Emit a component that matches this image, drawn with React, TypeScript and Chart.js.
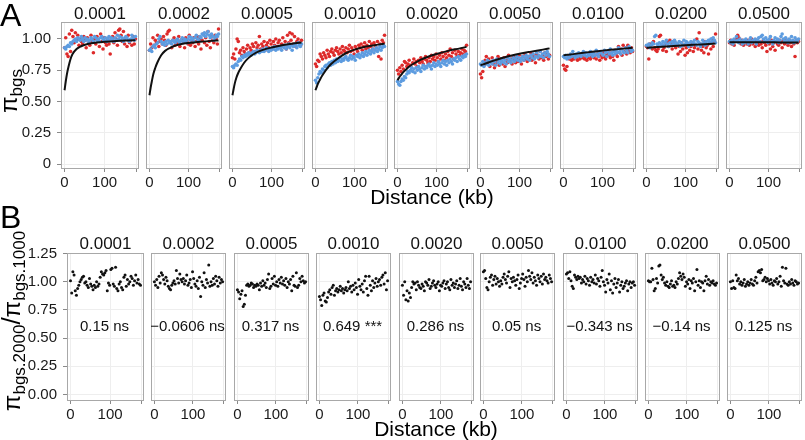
import React, { useEffect, useRef } from 'react';
import { Chart, registerables } from 'chart.js';

Chart.register(...registerables);

const FONT = "'Liberation Sans', Arial, Helvetica, sans-serif";
const RED = '#dd2a2a';
const BLUE = '#5d9ce0';

// facet labels (rate)
const RATES = ['0.0001', '0.0002', '0.0005', '0.0010', '0.0020', '0.0050', '0.0100', '0.0200', '0.0500'];
// panel B annotations
const STAT_LABELS = ['0.15 ns', '\u22120.0606 ns', '0.317 ns', '0.649 ***', '0.286 ns', '0.05 ns', '\u22120.343 ns', '\u22120.14 ns', '0.125 ns'];

// distance bins (kb)
const X_KB = [
  0, 3, 6, 9, 12, 15, 18, 21, 24, 27,
  30, 33, 36, 39, 42, 45, 48, 51, 54, 57,
  60, 63, 66, 69, 72, 75, 78, 81, 84, 87,
  90, 93, 96, 99, 102, 105, 108, 111, 114, 117,
  120, 123, 126, 129, 132, 135, 138, 141, 144, 147,
  150, 153, 156, 159, 162, 165, 168, 171, 174, 177,
];
const X_TICKS = [0, 100, 180];
const X_TICK_LABELS = ['0', '100', ''];
const Y_TICKS_A = [0, 0.25, 0.5, 0.75, 1.0];
const Y_TICK_LABELS_A = ['0', '0.25', '0.50', '0.75', '1.00'];
const Y_TICKS_B = [0, 0.25, 0.5, 0.75, 1.0, 1.25];
const Y_TICK_LABELS_B = ['0.00', '0.25', '0.50', '0.75', '1.00', '1.25'];

// Panel A, red series (one list per rate)
const RED_A = [
  [0.93,1.01,0.88,0.86,1.04,0.90,1.07,1.02,0.97,1.05,
   0.99,1.03,0.95,1.00,0.98,0.96,1.02,0.99,0.93,1.01,
   0.97,0.95,1.03,0.98,0.89,1.00,0.96,1.02,0.99,0.94,
   1.04,0.98,0.92,1.01,0.97,0.95,1.00,0.96,0.88,0.99,
   1.02,0.97,1.05,1.00,0.95,1.07,1.08,1.03,0.98,1.06,
   0.96,1.01,0.94,1.03,0.97,0.99,0.95,1.02,0.96,1.00],
  [0.91,0.96,0.93,1.01,0.95,0.99,0.97,1.03,0.94,0.98,
   1.00,0.96,1.02,0.99,0.95,1.04,1.06,1.07,0.97,0.93,
   0.99,1.01,0.95,0.98,0.96,1.02,0.94,0.99,1.00,0.97,
   0.93,1.01,0.98,0.96,1.03,0.95,0.99,0.97,1.01,0.94,
   0.98,1.02,0.96,1.00,0.92,0.99,1.04,0.97,1.01,0.95,
   1.06,0.98,0.93,1.02,0.99,0.97,1.03,1.00,0.96,1.08],
  [0.85,0.88,0.84,0.92,1.00,0.98,0.89,0.91,0.87,0.93,
   0.90,0.88,0.92,0.95,0.89,0.93,0.91,0.96,0.94,0.90,
   0.97,0.93,0.95,1.02,0.92,0.96,0.94,0.98,0.91,0.95,
   0.97,0.93,0.99,0.96,0.92,0.98,0.95,1.00,0.94,0.97,
   0.99,0.93,0.96,1.01,0.95,0.98,0.92,1.03,0.97,1.05,
   0.99,1.04,0.96,1.02,0.94,0.98,1.00,0.97,0.95,0.99],
  [0.80,0.78,0.83,0.82,0.88,0.86,0.84,0.89,0.87,0.85,
   0.91,0.88,0.86,0.90,0.92,0.89,0.87,0.91,0.93,0.90,
   0.88,0.92,0.89,0.94,0.91,0.90,0.93,0.89,0.92,0.95,
   0.90,0.93,0.91,0.88,0.94,0.92,0.90,0.95,0.93,0.96,
   0.91,0.94,0.97,0.92,0.95,0.93,0.98,0.94,0.96,0.92,
   0.97,0.95,0.93,0.98,0.86,0.96,0.84,0.99,0.97,1.03],
  [0.75,0.72,0.77,0.74,0.79,0.76,0.82,0.81,0.78,0.80,
   0.83,0.79,0.77,0.81,0.84,0.80,0.82,0.78,0.83,0.81,
   0.85,0.82,0.80,0.84,0.86,0.83,0.81,0.85,0.82,0.87,
   0.84,0.86,0.83,0.88,0.85,0.82,0.87,0.84,0.89,0.86,
   0.83,0.88,0.85,0.90,0.87,0.92,0.86,0.89,0.84,0.91,
   0.88,0.86,0.90,0.87,0.89,0.92,0.88,0.91,0.90,0.95],
  [0.72,0.69,0.74,0.79,0.83,0.86,0.81,0.84,0.78,0.82,
   0.85,0.80,0.77,0.83,0.81,0.86,0.79,0.84,0.82,0.80,
   0.85,0.78,0.83,0.81,0.87,0.82,0.84,0.80,0.86,0.83,
   0.81,0.85,0.82,0.87,0.84,0.80,0.86,0.83,0.88,0.84,
   0.82,0.86,0.85,0.89,0.83,0.87,0.85,0.81,0.88,0.86,
   0.84,0.90,0.85,0.87,0.83,0.89,0.86,0.88,0.84,0.87],
  [0.79,0.76,0.75,0.78,0.85,0.84,0.86,0.83,0.85,0.84,
   0.87,0.85,0.83,0.86,0.84,0.88,0.85,0.87,0.84,0.86,
   0.83,0.85,0.88,0.84,0.86,0.89,0.85,0.87,0.84,0.88,
   0.86,0.83,0.87,0.85,0.89,0.86,0.84,0.88,0.90,0.87,
   0.85,0.89,0.86,0.83,0.91,0.88,0.86,0.94,0.89,0.92,
   0.87,0.95,0.90,0.93,0.88,0.95,0.91,0.89,0.93,0.90],
  [0.94,0.93,0.84,0.96,0.95,0.92,0.98,0.93,0.91,0.90,
   0.92,1.02,1.03,0.95,0.91,0.93,0.96,0.90,0.98,0.94,
   0.99,0.97,0.92,0.95,0.98,0.93,0.96,0.88,0.94,0.90,
   0.97,0.92,0.95,0.87,0.93,0.89,0.96,0.91,0.94,0.97,
   0.90,0.93,0.95,1.00,0.92,1.05,0.96,0.91,0.94,0.89,
   0.98,0.93,0.95,0.88,0.97,0.92,1.00,0.94,0.98,1.04],
  [0.97,0.99,0.96,0.98,0.95,0.98,1.00,1.03,1.01,0.97,
   0.96,0.99,0.95,0.97,0.98,0.96,0.99,0.95,0.97,1.00,
   0.96,0.98,0.94,0.99,0.97,0.95,0.98,0.96,0.93,0.99,
   0.97,0.95,0.90,0.98,0.96,0.92,0.99,0.94,0.97,0.91,
   0.98,0.96,0.95,0.99,0.97,0.93,0.98,0.96,1.00,0.97,
   0.95,0.99,0.97,0.94,0.98,0.96,0.86,0.99,0.97,0.98],
];

// Panel A, blue series
const BLUE_A = [
  [0.93,0.92,0.94,0.95,0.94,0.97,0.96,0.98,0.99,1.00,
   0.98,1.01,1.00,0.99,1.02,1.00,0.98,1.01,0.99,1.00,
   0.97,0.99,1.01,1.00,0.98,1.02,1.01,0.99,1.00,0.98,
   1.01,1.02,1.00,0.99,1.01,0.98,1.00,1.02,0.99,1.01,
   1.00,0.98,1.01,0.99,1.03,1.00,1.02,0.99,1.01,0.98,
   1.00,1.02,1.01,0.99,0.98,1.00,1.03,1.01,0.99,1.02],
  [0.91,0.92,0.90,0.94,0.95,0.93,0.96,0.97,1.00,1.02,
   0.98,0.96,0.97,0.95,0.98,0.96,0.99,0.97,0.98,0.96,
   0.99,0.98,0.97,0.99,1.00,0.98,0.97,0.99,1.01,0.98,
   1.00,0.99,0.97,1.00,1.02,0.99,1.01,1.00,0.98,1.01,
   1.03,1.00,0.99,1.02,1.01,1.04,1.03,1.05,1.02,1.04,
   1.06,1.03,1.01,1.04,1.02,0.99,1.01,1.03,1.02,1.04],
  [0.78,0.77,0.79,0.80,0.79,0.82,0.84,0.83,0.86,0.85,
   0.87,0.86,0.88,0.87,0.89,0.88,0.87,0.89,0.90,0.88,
   0.89,0.91,0.90,0.89,0.91,0.90,0.92,0.90,0.91,0.93,
   0.92,0.90,0.92,0.91,0.93,0.92,0.94,0.91,0.93,0.92,
   0.94,0.93,0.91,0.94,0.93,0.95,0.92,0.94,0.96,0.93,
   0.95,0.91,0.94,0.96,0.95,0.93,0.97,0.95,0.94,0.96],
  [0.67,0.65,0.69,0.72,0.74,0.73,0.76,0.75,0.78,0.79,
   0.77,0.80,0.81,0.79,0.82,0.80,0.83,0.81,0.84,0.82,
   0.83,0.85,0.82,0.84,0.83,0.85,0.86,0.84,0.83,0.85,
   0.87,0.84,0.86,0.85,0.83,0.87,0.86,0.88,0.85,0.87,
   0.89,0.86,0.88,0.90,0.87,0.89,0.91,0.88,0.90,0.92,
   0.89,0.91,0.93,0.90,0.92,0.94,0.91,0.93,0.95,0.94],
  [0.66,0.64,0.63,0.66,0.68,0.67,0.70,0.69,0.72,0.74,
   0.73,0.75,0.77,0.74,0.76,0.73,0.77,0.75,0.78,0.76,
   0.74,0.77,0.79,0.76,0.78,0.77,0.79,0.80,0.78,0.76,
   0.79,0.81,0.78,0.80,0.79,0.82,0.80,0.78,0.81,0.83,
   0.80,0.82,0.79,0.83,0.81,0.84,0.82,0.80,0.84,0.83,
   0.85,0.82,0.86,0.84,0.83,0.86,0.85,0.87,0.86,0.88],
  [0.80,0.79,0.82,0.78,0.81,0.80,0.83,0.79,0.82,0.81,
   0.80,0.83,0.82,0.79,0.84,0.81,0.83,0.80,0.82,0.84,
   0.81,0.83,0.80,0.85,0.82,0.84,0.81,0.83,0.85,0.82,
   0.84,0.86,0.83,0.85,0.82,0.84,0.86,0.83,0.85,0.87,
   0.84,0.86,0.83,0.87,0.85,0.88,0.84,0.86,0.89,0.85,
   0.87,0.90,0.86,0.88,0.85,0.89,0.87,0.90,0.88,0.86],
  [0.86,0.85,0.87,0.84,0.86,0.85,0.88,0.86,0.90,0.87,
   0.85,0.88,0.86,0.89,0.87,0.86,0.88,0.90,0.87,0.89,
   0.86,0.88,0.87,0.90,0.88,0.86,0.89,0.87,0.91,0.88,
   0.86,0.89,0.90,0.88,0.87,0.91,0.89,0.86,0.90,0.88,
   0.92,0.89,0.87,0.90,0.88,0.91,0.89,0.93,0.90,0.88,
   0.92,0.90,0.89,0.93,0.91,0.89,0.94,0.92,0.90,0.91],
  [0.95,0.94,0.96,0.93,0.95,0.97,0.96,1.02,1.03,0.96,
   0.95,0.97,0.94,0.96,0.98,0.95,0.97,0.99,0.96,0.94,
   0.97,0.95,0.98,0.96,0.99,0.97,0.95,0.96,0.98,0.94,
   0.97,0.95,0.99,0.96,0.98,0.97,0.94,0.96,0.98,0.95,
   0.97,0.99,0.96,0.95,0.98,0.97,0.94,0.96,0.99,0.97,
   0.95,0.98,0.96,0.99,0.97,1.00,0.98,1.01,0.99,0.97],
  [0.98,0.97,0.99,0.96,1.00,0.98,1.02,0.99,0.97,1.00,
   0.98,0.96,0.99,0.97,1.00,0.98,0.96,0.99,1.01,0.97,
   0.99,0.98,1.00,0.96,0.99,1.01,0.98,1.02,1.03,1.00,
   0.98,1.01,0.99,0.97,1.00,1.02,0.98,0.96,0.99,1.01,
   0.98,1.00,0.97,0.99,1.02,1.04,1.00,0.98,1.01,0.99,
   0.97,1.00,0.98,1.02,0.99,0.97,1.01,0.99,0.98,1.00],
];

// Panel A, fitted curve (read at these distances)
const CURVE_X = [0, 3, 6, 10, 15, 20, 30, 40, 60, 80, 100, 130, 160, 177];
const CURVE_A = [
  [0.59, 0.66, 0.72, 0.78, 0.84, 0.88, 0.92, 0.94, 0.962, 0.972, 0.978, 0.984, 0.988, 0.99],
  [0.55, 0.61, 0.66, 0.72, 0.77, 0.81, 0.87, 0.905, 0.94, 0.958, 0.968, 0.978, 0.985, 0.988],
  [0.55, 0.60, 0.645, 0.69, 0.73, 0.76, 0.81, 0.845, 0.89, 0.915, 0.932, 0.952, 0.966, 0.972],
  [0.59, 0.615, 0.64, 0.665, 0.695, 0.72, 0.765, 0.80, 0.85, 0.89, 0.915, 0.94, 0.955, 0.963],
  [0.67, 0.685, 0.70, 0.715, 0.735, 0.75, 0.78, 0.80, 0.835, 0.86, 0.88, 0.905, 0.925, 0.937],
  [0.79, 0.793, 0.797, 0.80, 0.806, 0.812, 0.823, 0.833, 0.852, 0.868, 0.882, 0.899, 0.915, 0.925],
  [0.87, 0.871, 0.872, 0.874, 0.875, 0.877, 0.881, 0.885, 0.893, 0.90, 0.907, 0.916, 0.925, 0.93],
  [0.93, 0.931, 0.931, 0.932, 0.933, 0.934, 0.936, 0.938, 0.942, 0.946, 0.95, 0.955, 0.96, 0.963],
  [0.975, 0.975, 0.975, 0.975, 0.975, 0.975, 0.975, 0.975, 0.974, 0.974, 0.974, 0.973, 0.973, 0.973],
];

// Panel B, ratio pi_bgs.2000 / pi_bgs.1000
const RATIO_B = [
  [1.01,0.90,1.09,1.06,0.92,0.88,0.94,0.97,1.00,1.02,
   1.04,1.05,0.99,1.00,0.97,0.95,1.03,0.98,0.96,0.93,
   0.97,0.95,1.00,0.96,0.98,1.04,1.09,1.07,1.06,1.08,
   1.10,0.92,0.99,0.97,1.11,1.12,0.98,0.96,1.13,0.94,
   0.92,0.98,1.00,0.95,0.93,1.04,1.06,0.96,1.02,0.98,
   1.00,1.05,1.03,0.97,1.01,1.06,0.99,1.02,0.98,0.97],
  [1.00,0.97,1.02,0.95,1.05,0.99,1.08,1.06,1.02,0.98,
   1.04,1.01,0.96,0.94,0.93,0.97,0.99,1.01,0.98,1.10,
   1.03,0.99,1.07,1.02,1.00,1.03,0.98,1.01,1.06,0.97,
   0.99,1.02,0.95,1.09,1.03,0.98,0.96,1.01,0.94,1.04,
   0.87,1.00,0.97,1.08,0.95,1.02,0.99,1.15,0.96,1.00,
   0.97,1.03,0.98,1.05,1.01,0.96,1.04,0.99,1.02,1.00],
  [0.93,0.91,0.85,0.89,0.92,0.78,0.80,0.88,0.97,0.98,
   0.96,0.97,0.99,0.98,0.95,0.97,0.96,0.98,0.97,0.93,
   0.99,0.96,1.01,0.97,0.99,0.95,1.02,1.07,0.94,0.96,
   1.03,0.98,1.05,0.97,1.00,0.96,1.02,0.99,1.04,0.98,
   1.01,0.97,1.03,0.95,1.00,0.98,1.02,0.92,1.05,0.97,
   0.96,1.08,0.95,0.97,1.03,1.00,1.05,1.01,0.99,1.00],
  [0.87,0.84,0.79,0.88,0.90,0.83,0.82,0.86,0.91,0.93,
   0.89,0.95,0.97,0.88,0.92,0.94,0.91,0.93,0.96,0.92,
   0.94,0.90,0.93,0.95,0.92,1.00,0.94,0.96,0.91,0.97,
   0.93,0.99,0.95,0.89,1.02,0.96,0.93,0.98,0.91,1.01,
   1.05,0.94,0.88,1.05,0.97,0.92,1.01,0.95,0.99,1.03,
   0.96,1.00,1.02,0.97,1.04,1.06,0.98,1.08,0.93,1.01],
  [0.97,0.88,1.00,0.84,0.92,0.83,0.90,0.86,0.95,1.00,
   0.98,0.99,0.93,1.00,0.97,0.95,0.94,0.98,0.96,0.92,
   1.00,0.99,0.97,1.02,0.94,0.96,0.99,1.01,0.97,0.95,
   0.98,1.00,0.92,0.97,0.96,0.99,1.01,0.94,0.98,1.00,
   0.95,0.93,1.02,0.97,0.99,0.95,0.98,1.01,0.94,0.97,
   1.03,0.96,0.93,1.00,0.98,0.95,1.03,0.97,0.94,1.00],
  [1.09,1.10,1.03,0.95,0.93,1.00,1.04,1.06,0.97,1.02,
   1.05,0.98,1.03,1.00,0.96,1.01,0.98,1.04,1.07,1.02,
   0.99,1.05,1.09,0.95,1.03,1.00,1.04,1.01,0.97,1.02,
   1.06,0.94,0.99,1.03,1.07,1.02,0.96,1.04,1.00,1.10,
   1.05,1.02,1.08,0.99,1.04,1.01,0.97,1.06,1.03,1.00,
   1.05,0.98,1.07,1.02,1.04,1.01,0.99,1.06,1.03,1.00],
  [1.07,1.08,1.03,1.09,1.01,0.96,0.94,1.06,1.04,1.02,
   1.05,1.03,1.04,0.99,1.02,1.00,1.05,0.98,1.03,1.01,
   0.97,1.04,1.00,1.02,0.99,1.06,0.98,1.03,1.01,0.96,
   1.04,1.10,1.00,0.97,0.91,1.02,0.99,1.07,0.93,1.01,
   0.90,0.98,1.03,0.95,0.99,1.02,0.91,0.97,1.00,0.94,
   0.96,0.99,1.01,0.92,0.98,1.00,0.95,0.99,1.00,0.97],
  [1.01,1.00,1.00,1.12,1.02,0.92,0.94,1.03,0.99,1.14,
   1.15,1.06,1.02,1.04,0.99,0.97,1.00,0.96,0.95,0.98,
   1.01,0.96,0.97,0.95,1.00,0.98,1.03,1.08,1.05,1.02,
   1.07,1.04,0.96,1.00,0.98,1.02,0.94,1.01,0.99,1.03,
   0.92,1.00,1.11,0.97,1.01,0.95,1.00,0.99,0.92,1.01,
   1.05,0.98,1.02,0.97,1.00,0.99,1.01,0.98,0.97,0.99],
  [1.00,0.94,1.01,0.95,0.94,1.06,1.01,1.03,0.98,1.00,
   0.97,0.99,1.02,0.96,0.98,1.00,0.97,0.99,1.02,0.98,
   0.97,1.01,1.04,0.99,1.09,1.10,1.08,1.11,1.01,1.02,
   1.04,1.00,1.03,1.01,0.98,1.02,0.99,0.97,1.01,1.00,
   1.03,0.98,1.00,1.05,0.96,1.13,1.01,0.99,1.12,0.98,
   0.97,1.00,0.98,1.02,0.99,0.97,1.01,1.00,0.98,0.99],
];

// ---------- layout ----------
const X_MIN = -8.85;
const X_MAX = 185.85;
const ROWS = [
  { lefts: [61, 144, 227, 310, 392, 475, 558, 641, 724], width: 80, top: 22, height: 147, canvasTop: 0, yMin: -0.04, yMax: 1.136, stripGap: 3, radius: 1.8 },
  { lefts: [67, 149, 232, 314, 397, 478, 561, 643, 725], width: 79, top: 253, height: 148, canvasTop: 230, yMin: -0.059, yMax: 1.256, stripGap: 4, radius: 1.5 },
];
const X_AXIS_H = 25;

function makeConfig(row: number, i: number): any {
  const R = ROWS[row];
  const first = i === 0;
  const isTop = row === 0;
  const yTicks = isTop ? Y_TICKS_A : Y_TICKS_B;
  const yLabels = isTop ? Y_TICK_LABELS_A : Y_TICK_LABELS_B;
  const datasets: any[] = isTop
    ? [
        {
          type: 'line',
          data: CURVE_X.map((x, k) => ({ x, y: CURVE_A[i][k] })),
          borderColor: '#111111',
          borderWidth: 2,
          pointRadius: 0,
          showLine: true,
          fill: false,
          cubicInterpolationMode: 'monotone',
        },
        {
          type: 'scatter',
          data: BLUE_A[i].map((y, k) => ({ x: X_KB[k], y })),
          backgroundColor: BLUE,
          borderWidth: 0,
          pointRadius: R.radius,
        },
        {
          type: 'scatter',
          data: RED_A[i].map((y, k) => ({ x: X_KB[k], y })),
          backgroundColor: RED,
          borderWidth: 0,
          pointRadius: R.radius,
        },
      ]
    : [
        {
          type: 'scatter',
          data: RATIO_B[i].map((y, k) => ({ x: X_KB[k], y })),
          backgroundColor: '#111111',
          borderWidth: 0,
          pointRadius: R.radius,
        },
      ];

  const decor = {
    id: 'panelDecor' + row + '_' + i,
    afterDraw(chart: any) {
      const { ctx, chartArea: a } = chart;
      ctx.save();
      ctx.strokeStyle = '#a8a8a8';
      ctx.lineWidth = 1;
      ctx.strokeRect(a.left + 0.5, a.top + 0.5, a.right - a.left - 1, a.bottom - a.top - 1);
      ctx.fillStyle = '#111111';
      ctx.font = `17px ${FONT}`;
      ctx.textAlign = 'center';
      ctx.textBaseline = 'alphabetic';
      ctx.fillText(RATES[i], (a.left + a.right) / 2, a.top - R.stripGap);
      if (!isTop) {
        ctx.font = `15px ${FONT}`;
        ctx.textBaseline = 'middle';
        ctx.fillText(STAT_LABELS[i], chart.scales.x.getPixelForValue(86), chart.scales.y.getPixelForValue(0.6));
      }
      ctx.restore();
    },
  };

  return {
    type: 'scatter',
    data: { datasets },
    options: {
      animation: false,
      responsive: false,
      events: [],
      layout: { padding: { top: R.top - R.canvasTop, left: first ? 0 : 2, right: 2, bottom: 0 } },
      plugins: { legend: { display: false }, tooltip: { enabled: false }, title: { display: false } },
      scales: {
        x: {
          type: 'linear',
          min: X_MIN,
          max: X_MAX,
          afterBuildTicks: (s: any) => {
            s.ticks = X_TICKS.map((v) => ({ value: v }));
          },
          afterFit: (s: any) => {
            s.height = X_AXIS_H;
          },
          ticks: {
            autoSkip: false,
            maxRotation: 0,
            minRotation: 0,
            padding: 2,
            color: '#1a1a1a',
            font: { family: FONT, size: 15 },
            callback: (v: number) => X_TICK_LABELS[X_TICKS.indexOf(v)] ?? '',
          },
          grid: { color: '#eeeeee', tickColor: '#8a8a8a', tickLength: 3, drawTicks: true },
          border: { display: false },
        },
        y: {
          type: 'linear',
          min: R.yMin,
          max: R.yMax,
          afterBuildTicks: (s: any) => {
            s.ticks = yTicks.map((v) => ({ value: v }));
          },
          afterFit: (s: any) => {
            s.width = first ? R.lefts[0] : 0;
          },
          ticks: {
            display: first,
            padding: 6,
            color: '#1a1a1a',
            font: { family: FONT, size: 15 },
            callback: (v: number) => yLabels[yTicks.indexOf(v)] ?? '',
          },
          grid: { color: '#eeeeee', tickColor: '#8a8a8a', tickLength: 4, drawTicks: first },
          border: { display: false },
        },
      },
    },
    plugins: [decor],
  };
}

function Panel({ row, i }: { row: number; i: number }) {
  const ref = useRef<HTMLCanvasElement | null>(null);
  const R = ROWS[row];
  const first = i === 0;
  const left = first ? 0 : R.lefts[i] - 2;
  const width = (first ? R.lefts[0] : 2) + R.width + 2;
  const height = R.top - R.canvasTop + R.height + X_AXIS_H;
  useEffect(() => {
    const chart = new Chart(ref.current as HTMLCanvasElement, makeConfig(row, i));
    return () => chart.destroy();
  }, [row, i]);
  return (
    <canvas
      ref={ref}
      width={width}
      height={height}
      style={{ position: 'absolute', left, top: R.canvasTop, width, height }}
    />
  );
}

const textBase: React.CSSProperties = {
  position: 'absolute',
  fontFamily: FONT,
  color: '#000',
  whiteSpace: 'nowrap',
  lineHeight: 1,
};

export default function App() {
  return (
    <div style={{ position: 'absolute', left: 0, top: 0, width: 805, height: 440, background: '#fff', overflow: 'hidden' }}>
      {[0, 1].map((row) => RATES.map((_, i) => <Panel key={row + '-' + i} row={row} i={i} />))}
      <div style={{ ...textBase, left: 0, top: -1, fontSize: 32 }}>A</div>
      <div style={{ ...textBase, left: 0, top: 201, fontSize: 32 }}>B</div>
      <div style={{ ...textBase, left: 332, top: 186, width: 200, textAlign: 'center', fontSize: 21 }}>Distance (kb)</div>
      <div style={{ ...textBase, left: 336, top: 418, width: 200, textAlign: 'center', fontSize: 21 }}>Distance (kb)</div>
      <div style={{ position: 'absolute', left: 11, top: 91, width: 0, height: 0 }}>
        <div style={{ ...textBase, left: 0, top: 0, transform: 'translate(-50%, -50%) rotate(-90deg)', fontSize: 24 }}>
          π<span style={{ fontSize: 17, verticalAlign: -5 }}>bgs</span>
        </div>
      </div>
      <div style={{ position: 'absolute', left: 13, top: 321, width: 0, height: 0 }}>
        <div style={{ ...textBase, left: 0, top: 0, transform: 'translate(-50%, -50%) rotate(-90deg)', fontSize: 24 }}>
          π<span style={{ fontSize: 17, verticalAlign: -5 }}>bgs.2000</span>
          <span style={{ fontSize: 26 }}>/</span>π<span style={{ fontSize: 17, verticalAlign: -5 }}>bgs.1000</span>
        </div>
      </div>
    </div>
  );
}
